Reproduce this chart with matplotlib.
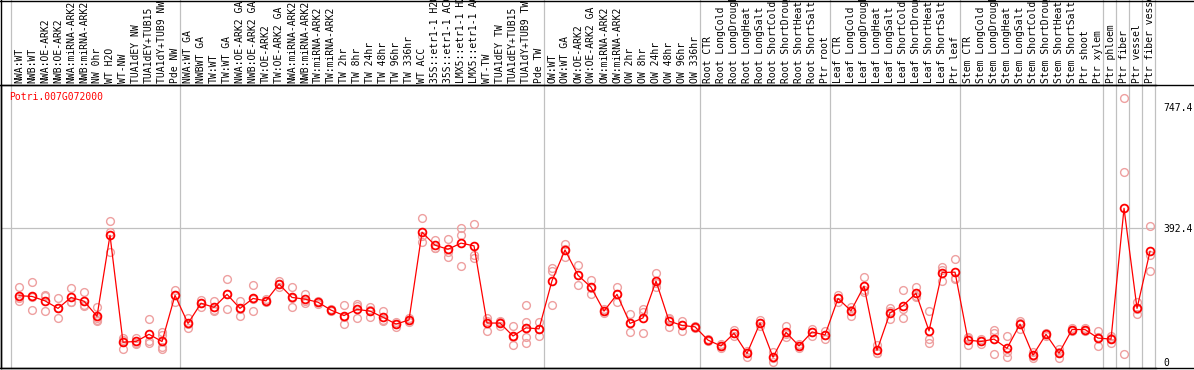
import numpy as np
import matplotlib.pyplot as plt
from matplotlib.lines import Line2D

plt.rcParams['font.family'] = 'DejaVu Sans Mono'

# sample names, left to right
labels = [
    'NWA:WT', 'NWB:WT', 'NWA:OE-ARK2', 'NWB:OE-ARK2', 'NWA:miRNA-ARK2', 'NWB:miRNA-ARK2',
    'NW 0hr', 'WT H2O', 'WT-NW', 'TUA1dEY NW', 'TUA1dEY+TUB15', 'TUA1dY+TUB9 NW', 'Pde NW',
    'NWA:WT GA', 'NWBWT GA', 'TW:WT', 'TW:WT GA', 'NWA:OE-ARK2 GA', 'NWB:OE-ARK2 GA',
    'TW:OE-ARK2', 'TW:OE-ARK2 GA', 'NWA:miRNA-ARK2', 'NWB:miRNA-ARK2', 'TW:miRNA-ARK2',
    'TW:miRNA-ARK2', 'TW 2hr', 'TW 8hr', 'TW 24hr', 'TW 48hr', 'TW 96hr', 'TW 336hr',
    'WT ACC', '35S::etr1-1 H2O', '35S::etr1-1 ACC', 'LMX5::etr1-1 H2O', 'LMX5::etr1-1 ACC',
    'WT-TW', 'TUA1dEY TW', 'TUA1dEY+TUB15', 'TUA1dY+TUB9 TW', 'Pde TW',
    'OW:WT', 'OW:WT GA', 'OW:OE-ARK2', 'OW:OE-ARK2 GA', 'OW:miRNA-ARK2', 'OW:miRNA-ARK2',
    'OW 2hr', 'OW 8hr', 'OW 24hr', 'OW 48hr', 'OW 96hr', 'OW 336hr',
    'Root CTR', 'Root LongCold', 'Root LongDrought', 'Root LongHeat', 'Root LongSalt',
    'Root ShortCold', 'Root ShortDrought', 'Root ShortHeat', 'Root ShortSalt', 'Ptr root',
    'Leaf CTR', 'Leaf LongCold', 'Leaf LongDrought', 'Leaf LongHeat', 'Leaf LongSalt',
    'Leaf ShortCold', 'Leaf ShortDrought', 'Leaf ShortHeat', 'Leaf ShortSalt', 'Ptr leaf',
    'Stem CTR', 'Stem LongCold', 'Stem LongDrought', 'Stem LongHeat', 'Stem LongSalt',
    'Stem ShortCold', 'Stem ShortDrought', 'Stem ShortHeat', 'Stem ShortSalt', 'Ptr shoot',
    'Ptr xylem', 'Ptr phloem', 'Ptr fiber', 'Ptr vessel', 'Ptr fiber vessel',
]
group_sizes = [13, 28, 12, 10, 10, 11, 1, 1, 1, 1]

means = [
    194, 192, 179, 157, 189, 178, 134, 371, 58, 60, 81, 60, 195,
    113, 172, 160, 198, 157, 186, 179, 228, 189, 184, 175, 152, 136, 154, 149, 131, 111, 123,
    380, 342, 330, 348, 340, 114, 114, 76, 100, 97,
    238, 328, 254, 219, 149, 198, 113, 129, 237, 120, 107, 103,
    64, 47, 84, 25, 114, 14, 87, 47, 88, 79,
    186, 150, 222, 34, 144, 165, 201, 91, 262, 263,
    64, 60, 67, 40, 111, 20, 81, 26, 95, 95, 70,
    67, 450, 157, 324,
]

reps = [
    [219, 186, 178], [234, 190, 152], [195, 192, 148], [186, 157, 128], [216, 176, 175],
    [205, 166, 164], [161, 130, 122, 120], [412, 381, 321], [71, 64, 38], [70, 57, 53],
    [126, 61, 56], [88, 78, 45, 38], [211, 196, 177],
    [130, 110, 100], [182, 172, 162], [179, 152, 149], [242, 198, 154], [179, 156, 136],
    [225, 185, 148], [183, 178, 176], [236, 229, 219], [219, 188, 160], [200, 180, 172],
    [180, 176, 170], [156, 152, 148], [166, 132, 110], [171, 163, 128], [162, 152, 133],
    [150, 124, 119], [118, 112, 103], [128, 124, 117], [421, 368, 351], [357, 335, 334],
    [359, 323, 308], [391, 372, 281], [403, 312, 305], [129, 120, 92], [121, 116, 105],
    [105, 73, 50], [166, 118, 100, 72, 55], [117, 97, 76],
    [274, 266, 166], [346, 330, 308], [284, 254, 224], [240, 217, 200], [154, 149, 144],
    [219, 200, 175], [140, 113, 87], [156, 147, 84], [261, 231, 219], [129, 127, 103],
    [121, 107, 92], [106, 103, 100],
    [68, 64, 60], [52, 47, 42], [93, 84, 75], [31, 27, 16], [122, 114, 106],
    [30, 11, 1], [105, 82, 74], [52, 47, 42], [98, 88, 76], [90, 79, 68],
    [196, 186, 176], [162, 152, 135], [248, 212, 206], [50, 27, 25], [157, 150, 125],
    [211, 155, 129], [219, 193, 191], [149, 66, 55], [279, 270, 237], [301, 246, 242],
    [70, 72, 50], [66, 62, 53], [94, 85, 22], [77, 29, 14], [121, 115, 97],
    [30, 17, 13], [85, 81, 77], [38, 29, 11], [100, 95, 90], [100, 95, 90], [91, 72, 47],
    [77, 69, 55], [772, 555, 22], [177, 155, 140], [398, 312, 266],
]

yticks = [0, 392.4, 747.4]
gene = 'Potri.007G072000'

W, H = 1194, 370
fig = plt.figure(figsize=(W / 100, H / 100), dpi=100)
ax = fig.add_axes([1 / W, 2 / H, 1155 / W, 283 / H])

x = np.arange(len(labels))
for i, r in enumerate(reps):
    ax.plot([i] * len(r), r, 'o', mfc='none', mec='#eea0a0', ms=5.6, mew=1.0, zorder=2)
ax.plot(x, means, '-', color='red', lw=0.9, zorder=3)
ax.plot(x, means, 'o', mfc='none', mec='red', ms=5.6, mew=1.3, zorder=4)

ax.set_xlim(-1.385, 87.46)
ax.set_ylim(-17.6, 811)

# grid: one horizontal line, vertical lines between sample groups
ax.axhline(392.4, color='#c0c0c0', lw=0.9, zorder=1)
bounds = np.concatenate([[0], np.cumsum(group_sizes)]) - 0.6
for b in bounds:
    ax.axvline(b, ymin=0, ymax=1.31, color='#c0c0c0', lw=0.9, zorder=1, clip_on=False)

ax.set_xticks(x)
ax.set_xticklabels(labels, rotation=90)
ax.xaxis.tick_top()
ax.tick_params(axis='x', length=0, pad=1.5, labelsize=7)

ax.set_yticks(yticks)
ax.set_yticklabels(['0', '392.4', '747.4'])
ax.yaxis.tick_right()
ax.tick_params(axis='y', length=0, pad=5, labelsize=7)

ax.spines['right'].set_visible(False)
for s in ['left', 'top', 'bottom']:
    ax.spines[s].set_linewidth(1.0)

# frame lines that run past the axes
for xs, ys in [([0, 1], [1 - 0.5 / H, 1 - 0.5 / H]),
               ([0, 1], [1 - 85 / H, 1 - 85 / H]),
               ([0, 1], [2 / H, 2 / H]),
               ([1 / W, 1 / W], [2 / H, 1])]:
    fig.add_artist(Line2D(xs, ys, color='black', lw=1.0, transform=fig.transFigure))

fig.text(9 / W, 1 - 97 / H, gene, color='red', fontsize=7, va='center', ha='left')

plt.savefig('out.png', dpi=100)
